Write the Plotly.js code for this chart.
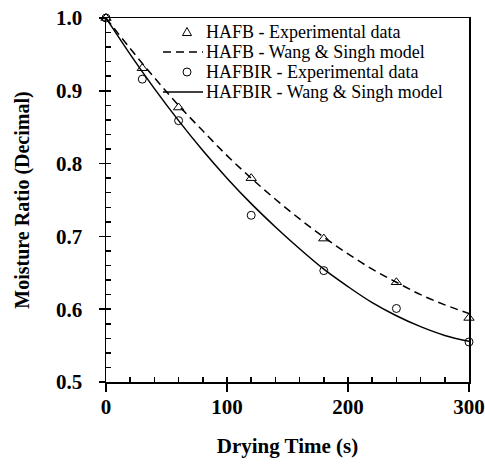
<!DOCTYPE html>
<html>
<head>
<meta charset="utf-8">
<script src="https://cdn.plot.ly/plotly-3.0.1.min.js"></script>
<style>html,body{margin:0;padding:0;background:#fff;}#chart{width:485px;height:464px;}</style>
</head>
<body>
<div id="chart"></div>
<script>
// Experimental data
const timeExp = [0, 30, 60, 120, 180, 240, 300];
const hafbExp = [1.000, 0.931, 0.877, 0.780, 0.697, 0.637, 0.588];
const hafbirExp = [1.000, 0.916, 0.859, 0.729, 0.653, 0.601, 0.555];

// Model curves
const timeModel = [0, 20, 40, 60, 80, 100, 120, 140, 160, 180, 200, 220, 240, 260, 280, 300];
const hafbModel = [1.000, 0.958, 0.918, 0.880, 0.845, 0.811, 0.780, 0.751, 0.724, 0.699, 0.676, 0.655, 0.637, 0.620, 0.606, 0.594];
const hafbirModel = [1.000, 0.950, 0.903, 0.859, 0.818, 0.780, 0.745, 0.713, 0.683, 0.655, 0.631, 0.609, 0.591, 0.576, 0.564, 0.556];

// Text
const legendLabels = [
  'HAFB - Experimental data',
  'HAFB - Wang & Singh model',
  'HAFBIR - Experimental data',
  'HAFBIR - Wang & Singh model'
];
const xTitle = 'Drying Time (s)';
const yTitle = 'Moisture Ratio (Decimal)';

const serif = 'Times New Roman, Liberation Serif, Tinos, DejaVu Serif';

const traces = [
  {x: timeModel, y: hafbModel, mode: 'lines', name: legendLabels[1],
   line: {color: '#000', width: 1.5, dash: '8px,5px', shape: 'spline'}, cliponaxis: false},
  {x: timeModel, y: hafbirModel, mode: 'lines', name: legendLabels[3],
   line: {color: '#000', width: 1.5, shape: 'spline'}, cliponaxis: false},
  {x: timeExp, y: hafbExp, mode: 'markers', name: legendLabels[0], xaxis: 'x2', yaxis: 'y2',
   marker: {symbol: 'triangle-up-open', size: 9, color: '#000', line: {width: 1, color: '#000'}}, cliponaxis: false},
  {x: timeExp, y: hafbirExp, mode: 'markers', name: legendLabels[2], xaxis: 'x2', yaxis: 'y2',
   marker: {symbol: 'circle-open', size: 8, color: '#000', line: {width: 1, color: '#000'}}, cliponaxis: false}
];

// plot-area pixel helpers for legend placement (paper coords)
const L = 106, R = 469, T = 18, B = 382;
const px = v => (v - L) / (R - L);
const py = v => (B - v) / (B - T);
const rowsY = [32, 52, 72, 92];
const keyX0 = 163, keyX1 = 203, keyMid = 187, textX = 205;

const annotations = legendLabels.map((t, i) => ({
  xref: 'paper', yref: 'paper', x: px(textX), y: py(rowsY[i]), xanchor: 'left', yanchor: 'middle',
  text: t, showarrow: false, borderpad: 0, font: {family: serif, size: 18, color: '#000'}
}));

const shapes = [
  {type: 'line', xref: 'paper', yref: 'paper', x0: px(keyX0), x1: px(keyX1), y0: py(rowsY[1]), y1: py(rowsY[1]),
   line: {color: '#000', width: 1.5, dash: '8px,5px'}},
  {type: 'line', xref: 'paper', yref: 'paper', x0: px(keyX0), x1: px(keyX1), y0: py(rowsY[3]), y1: py(rowsY[3]),
   line: {color: '#000', width: 1.5}},
  {type: 'path', xref: 'paper', yref: 'paper',
   path: 'M ' + px(keyMid - 4.5) + ' ' + py(rowsY[0] + 3.5) + ' L ' + px(keyMid + 4.5) + ' ' + py(rowsY[0] + 3.5) +
         ' L ' + px(keyMid) + ' ' + py(rowsY[0] - 4.5) + ' Z',
   line: {color: '#000', width: 1}},
  {type: 'circle', xref: 'paper', yref: 'paper', x0: px(keyMid - 4), x1: px(keyMid + 4), y0: py(rowsY[2] + 4), y1: py(rowsY[2] - 4),
   line: {color: '#000', width: 1}}
];

const layout = {
  width: 485, height: 464,
  margin: {l: 106, r: 16, t: 18, b: 82, pad: 0},
  paper_bgcolor: '#fff', plot_bgcolor: '#fff',
  showlegend: false,
  font: {family: serif, color: '#000'},
  xaxis: {
    range: [0, 300], tickvals: [0, 100, 200, 300], ticktext: ['0', '100', '200', '300'],
    ticks: 'outside', ticklen: 8, tickwidth: 1.5, tickcolor: '#000',
    showline: true, linecolor: '#000', linewidth: 1.5, mirror: true,
    showgrid: false, zeroline: false,
    tickfont: {family: serif, size: 21, color: '#000', weight: 'bold'},
    ticklabelstandoff: -3,
    title: {text: '<b>' + xTitle + '</b>', font: {family: serif, size: 21, color: '#000'}, standoff: 20}
  },
  yaxis: {
    range: [0.5, 1.0], tickvals: [0.5, 0.6, 0.7, 0.8, 0.9, 1.0], tickformat: '.1f',
    ticks: 'outside', ticklen: 6, tickwidth: 1.5, tickcolor: '#000',
    showline: true, linecolor: '#000', linewidth: 1.5, mirror: true,
    showgrid: false, zeroline: false,
    tickfont: {family: serif, size: 21, color: '#000', weight: 'bold'},
    ticklabelstandoff: 12,
    title: {text: '<b>' + yTitle + '</b>', font: {family: serif, size: 20, color: '#000'}, standoff: 21}
  },
  xaxis2: {
    overlaying: 'x', anchor: 'y2', range: [0, 300], dtick: 20, tick0: 0,
    ticks: 'inside', ticklen: 5, tickwidth: 1.5, tickcolor: '#000',
    showticklabels: false, showline: false, showgrid: false, zeroline: false, side: 'bottom'
  },
  yaxis2: {
    overlaying: 'y', anchor: 'x2', range: [0.5, 1.0], dtick: 0.02, tick0: 0.5,
    ticks: 'inside', ticklen: 5, tickwidth: 1.5, tickcolor: '#000',
    showticklabels: false, showline: false, showgrid: false, zeroline: false, side: 'left'
  },
  annotations: annotations,
  shapes: shapes
};

Plotly.newPlot('chart', traces, layout, {displayModeBar: false, staticPlot: true});
</script>
</body>
</html>
